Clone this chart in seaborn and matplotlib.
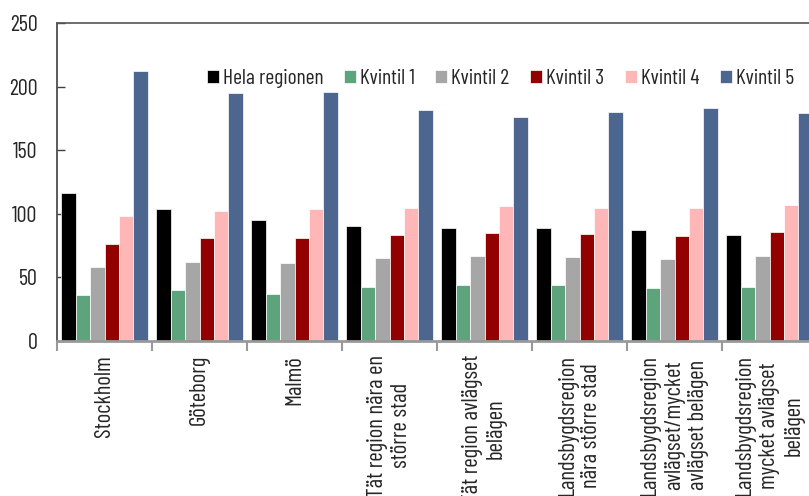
import matplotlib
matplotlib.use("Agg")
import matplotlib.pyplot as plt
from matplotlib.ticker import FixedLocator
import pandas as pd
import seaborn as sns

# Regions (x axis)
regions = [
    "Stockholm",
    "Göteborg",
    "Malmö",
    "Tät region nära en\nstörre stad",
    "Tät region avlägset\nbelägen",
    "Landsbygdsregion\nnära större stad",
    "Landsbygdsregion\navlägset/mycket\navlägset belägen",
    "Landsbygdsregion\nmycket avlägset\nbelägen",
]

# Series values
hela_regionen = [116.7, 103.8, 95.0, 90.5, 88.9, 88.9, 87.1, 83.2]
kvintil_1 = [35.9, 39.8, 36.7, 42.4, 44.2, 43.7, 41.8, 42.4]
kvintil_2 = [58.3, 62.5, 61.0, 64.9, 66.5, 66.2, 64.6, 66.5]
kvintil_3 = [76.4, 80.6, 80.6, 83.4, 85.0, 84.2, 82.9, 85.3]
kvintil_4 = [98.6, 102.0, 103.6, 104.9, 106.2, 104.9, 104.4, 106.7]
kvintil_5 = [212.5, 194.7, 196.0, 181.9, 176.0, 179.7, 183.4, 179.0]

series_names = ["Hela regionen", "Kvintil 1", "Kvintil 2", "Kvintil 3", "Kvintil 4", "Kvintil 5"]
series_values = [hela_regionen, kvintil_1, kvintil_2, kvintil_3, kvintil_4, kvintil_5]
colors = ["#000000", "#5da37c", "#a6a6a6", "#920000", "#ffb6b6", "#4c668f"]

rows = []
for name, vals in zip(series_names, series_values):
    for reg, v in zip(regions, vals):
        rows.append({"region": reg, "serie": name, "value": v})
df = pd.DataFrame(rows)

sns.set_style("white")
narrow = ["Barlow Condensed", "DejaVu Sans"]
plt.rcParams["font.family"] = narrow

fig = plt.figure(figsize=(8.09, 4.96), dpi=100)
ax = fig.add_axes([57 / 809, 155 / 496, 760 / 809, 318 / 496])

sns.barplot(data=df, x="region", y="value", hue="serie", hue_order=series_names,
            order=regions, palette=colors, width=0.915, edgecolor="white",
            linewidth=0.5, saturation=1, ax=ax)

ax.set_xlim(-0.5, len(regions) - 0.5)
ax.set_ylim(0, 250)
ax.set_yticks([0, 50, 100, 150, 200, 250])
ax.set_xlabel("")
ax.set_ylabel("")

# spines
ax.spines["right"].set_visible(False)
ax.spines["left"].set_color("#404040")
ax.spines["top"].set_color("#555555")
ax.spines["bottom"].set_color("#999999")
ax.spines["bottom"].set_linewidth(2)
ax.spines["left"].set_linewidth(1.2)
ax.spines["top"].set_linewidth(1.2)

ax.tick_params(axis="y", direction="in", length=6, width=1, color="#404040",
               pad=14, left=True, labelsize=16)
ax.tick_params(axis="x", which="major", length=0, pad=10, labelsize=16.5)
ax.xaxis.set_minor_locator(FixedLocator([i - 0.5 for i in range(len(regions) + 1)]))
ax.tick_params(axis="x", which="minor", direction="out", length=7, width=1.5,
               color="#999999", bottom=True)

for lbl in ax.get_xticklabels():
    lbl.set_rotation(90)
    lbl.set_ha("center")
    lbl.set_va("top")
    lbl.set_multialignment("center")
    lbl.set_linespacing(1.2)

ax.legend(loc="center right", bbox_to_anchor=(0.981, 0.825), ncol=6, frameon=False,
          prop={"size": 15.5}, handlelength=0.55, handleheight=0.55,
          handletextpad=0.2, columnspacing=0.95, borderaxespad=0)

fig.savefig("out.png", dpi=100)
